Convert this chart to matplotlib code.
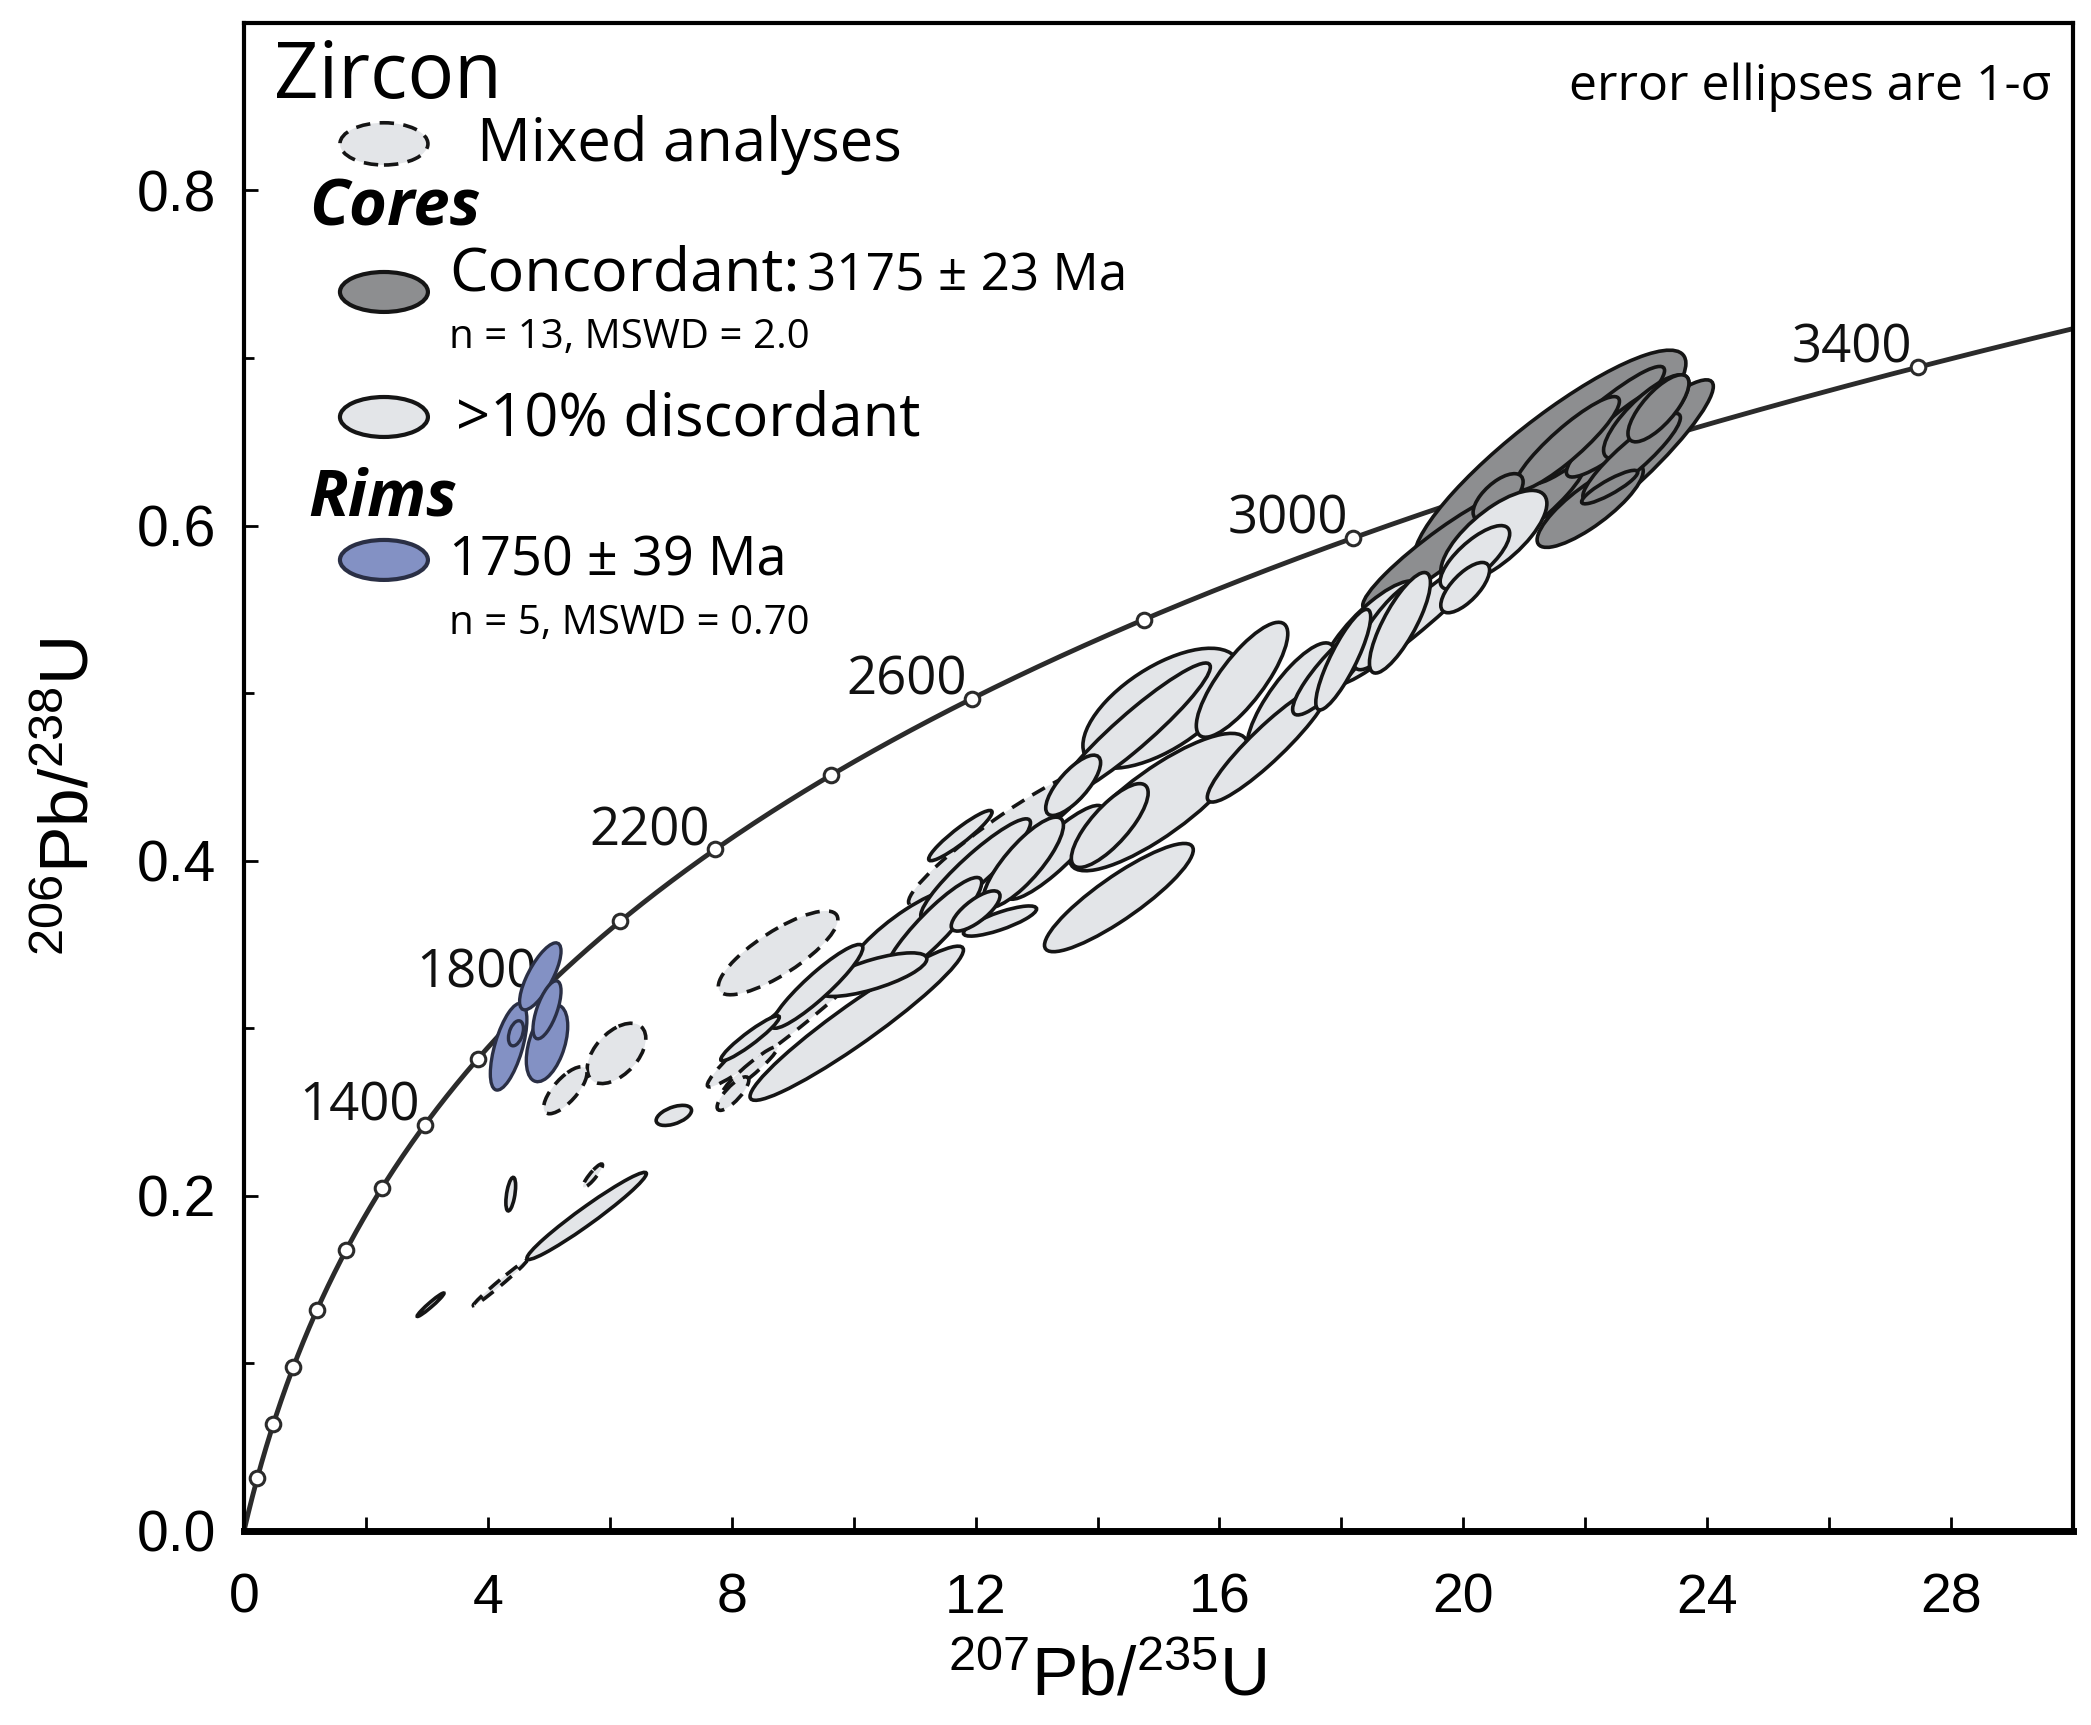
import numpy as np
import matplotlib
matplotlib.use("Agg")
import matplotlib.pyplot as plt
from matplotlib.patches import Ellipse
from matplotlib.ticker import MultipleLocator

plt.rcParams['font.family'] = ['Liberation Sans', 'DejaVu Sans']
plt.rcParams['mathtext.fontset'] = 'custom'
plt.rcParams['mathtext.rm'] = 'Liberation Sans'
plt.rcParams['mathtext.it'] = 'Liberation Sans'
plt.rcParams['mathtext.bf'] = 'Liberation Sans'

# decay constants (1/yr)
L235 = 9.8485e-10
L238 = 1.55125e-10

marker_ages = [200, 400, 600, 800, 1000, 1200, 1400, 1600, 1800, 2000,
               2200, 2400, 2600, 2800, 3000, 3200, 3400]
label_ages = [1400, 1800, 2200, 2600, 3000, 3400]

# analyses: 207Pb/235U, 1s, 206Pb/238U, 1s, rho
conc_x = [21.42, 19.6, 22.68, 22.2, 21.0, 22.65, 21.7, 22.76, 22.08, 23.2, 20.57, 22.4, 23.0]
conc_sx = [2.23, 1.25, 1.42, 1.1, 1.0, 0.96, 0.86, 0.80, 0.87, 0.50, 0.41, 0.46, 0.70]
conc_y = [0.639, 0.585, 0.638, 0.660, 0.610, 0.658, 0.649, 0.641, 0.612, 0.670, 0.617, 0.623, 0.665]
conc_sy = [0.0657, 0.035, 0.049, 0.035, 0.030, 0.029, 0.028, 0.026, 0.025, 0.020, 0.014, 0.010, 0.025]
conc_rho = [0.88, 0.93, 0.92, 0.93, 0.88, 0.90, 0.90, 0.90, 0.82, 0.75, 0.65, 0.88, 0.80]

disc_x = [3.06, 4.375, 5.62, 7.05, 8.30, 10.05, 10.30, 10.85, 11.75, 12.0, 12.4, 12.78, 13.6, 14.2,
          14.35, 14.6, 15.0, 15.05, 16.37, 17.17, 18.03, 18.48, 19.2, 18.8, 18.96, 20.5, 20.19, 20.03,
          9.4, 11.3, 12.0, 13.3, 16.8, 17.9]
disc_sx = [0.22, 0.08, 0.98, 0.29, 0.48, 1.75, 0.90, 0.97, 0.52, 0.40, 0.60, 0.66, 0.45, 0.63,
           1.22, 1.25, 1.46, 1.29, 0.75, 0.72, 0.45, 0.83, 1.3, 0.60, 0.50, 0.87, 0.57, 0.40,
           0.75, 0.80, 0.90, 0.80, 1.0, 0.7]
disc_y = [0.135, 0.201, 0.188, 0.248, 0.294, 0.303, 0.332, 0.356, 0.415, 0.370, 0.364, 0.399, 0.445, 0.421,
          0.378, 0.478, 0.435, 0.491, 0.508, 0.496, 0.520, 0.536, 0.545, 0.541, 0.542, 0.593, 0.581, 0.563,
          0.325, 0.360, 0.395, 0.405, 0.470, 0.515]
disc_sy = [0.007, 0.010, 0.026, 0.006, 0.0134, 0.046, 0.013, 0.0274, 0.015, 0.012, 0.009, 0.027, 0.018, 0.025,
           0.0323, 0.040, 0.041, 0.0358, 0.0343, 0.034, 0.030, 0.031, 0.040, 0.027, 0.030, 0.028, 0.019, 0.015,
           0.025, 0.030, 0.030, 0.028, 0.035, 0.028]
disc_rho = [0.97, 0.50, 0.97, 0.50, 0.94, 0.95, 0.72, 0.84, 0.93, 0.75, 0.80, 0.82, 0.75, 0.78,
            0.88, 0.94, 0.82, 0.62, 0.80, 0.80, 0.85, 0.80, 0.96, 0.82, 0.80, 0.72, 0.75, 0.70,
            0.92, 0.90, 0.92, 0.88, 0.92, 0.88]

mixed_x = [4.2, 5.27, 5.72, 6.11, 8.02, 8.3, 8.76, 9.1, 12.45]
mixed_sx = [0.44, 0.355, 0.16, 0.48, 0.26, 0.45, 0.98, 1.5, 1.55]
mixed_y = [0.148, 0.263, 0.212, 0.285, 0.261, 0.275, 0.345, 0.310, 0.414]
mixed_sy = [0.0135, 0.014, 0.007, 0.018, 0.010, 0.014, 0.025, 0.045, 0.041]
mixed_rho = [0.99, 0.73, 0.90, 0.50, 0.80, 0.95, 0.80, 0.975, 0.94]

rim_x = [4.34, 4.97, 4.86, 4.97, 4.46]
rim_sx = [0.30, 0.34, 0.34, 0.23, 0.123]
rim_y = [0.289, 0.291, 0.331, 0.311, 0.297]
rim_sy = [0.0259, 0.0229, 0.020, 0.0173, 0.0075]
rim_rho = [0.62, 0.45, 0.75, 0.65, 0.38]

LIGHT = "#e3e5e8"
DARK = "#8d8e90"
BLUE = "#8391c4"
EDGE = "#151515"
TXT = "Open Sans"
DASH = (0, (4, 2.6))


def draw_group(ax, xs, sxs, ys, sys_, rhos, z, **kw):
    # biggest ellipses go to the back
    order = sorted(range(len(xs)),
                   key=lambda i: -sxs[i] * sys_[i] * np.sqrt(1 - rhos[i] ** 2))
    for i in order:
        cov = np.array([[sxs[i] ** 2, rhos[i] * sxs[i] * sys_[i]],
                        [rhos[i] * sxs[i] * sys_[i], sys_[i] ** 2]])
        vals, vecs = np.linalg.eigh(cov)
        ang = np.degrees(np.arctan2(vecs[1, 1], vecs[0, 1]))
        ax.add_patch(Ellipse((xs[i], ys[i]), 2 * np.sqrt(vals[1]), 2 * np.sqrt(vals[0]),
                             angle=ang, zorder=z, **kw))


fig = plt.figure(figsize=(20.91, 17.25), dpi=100)
ax = fig.add_axes([0.1167, 0.1125, 0.8747, 0.8742])
ax.set_xlim(0, 30)
ax.set_ylim(0, 0.9)

# concordia
t = np.linspace(0, 3.6e9, 800)
ax.plot(np.exp(L235 * t) - 1, np.exp(L238 * t) - 1, color="#2b2b2b", lw=3.5, zorder=1)
ma = np.array(marker_ages) * 1e6
ax.plot(np.exp(L235 * ma) - 1, np.exp(L238 * ma) - 1, 'o', ms=10.5, mfc='white',
        mec="#2b2b2b", mew=2.2, zorder=1.5)
for a in label_ages:
    ax.annotate(str(a), (np.exp(L235 * a * 1e6) - 1, np.exp(L238 * a * 1e6) - 1),
                xytext=(-4, 3), textcoords='offset points', ha='right', va='baseline',
                fontsize=38, family=TXT, color='#111111', zorder=1.6)

draw_group(ax, mixed_x, mixed_sx, mixed_y, mixed_sy, mixed_rho, 2,
           facecolor=LIGHT, edgecolor=EDGE, lw=2.6, linestyle=DASH)
draw_group(ax, conc_x, conc_sx, conc_y, conc_sy, conc_rho, 3,
           facecolor=DARK, edgecolor=EDGE, lw=2.6)
draw_group(ax, disc_x, disc_sx, disc_y, disc_sy, disc_rho, 4,
           facecolor=LIGHT, edgecolor=EDGE, lw=2.6)
draw_group(ax, rim_x, rim_sx, rim_y, rim_sy, rim_rho, 5,
           facecolor=BLUE, edgecolor="#2a2f45", lw=2.4)

# axes styling
for s in ['top', 'left', 'right']:
    ax.spines[s].set_linewidth(3)
ax.spines['bottom'].set_linewidth(5)
ax.xaxis.set_major_locator(MultipleLocator(4))
ax.xaxis.set_minor_locator(MultipleLocator(2))
ax.yaxis.set_major_locator(MultipleLocator(0.2))
ax.yaxis.set_minor_locator(MultipleLocator(0.1))
ax.tick_params(axis='both', which='both', direction='in', top=False, right=False, width=2)
ax.tick_params(axis='x', which='both', length=10, pad=30, labelsize=40)
ax.tick_params(axis='y', which='major', length=10, pad=20, labelsize=41)
ax.tick_params(axis='y', which='minor', length=7)
ax.yaxis.set_major_formatter(plt.FuncFormatter(lambda v, p: f"{v:.1f}"))

ax.text(0.472, -0.109, r"$^{207}$Pb/$^{235}$U", transform=ax.transAxes, ha='center',
        va='baseline', fontsize=50)
ax.text(-0.085, 0.487, r"$^{206}$Pb/$^{238}$U", transform=ax.transAxes, ha='center',
        va='baseline', rotation=90, rotation_mode='anchor', fontsize=50)

# key
tr = ax.transAxes
ax.text(0.0162, 0.950, "Zircon", transform=tr, fontsize=56, family=TXT, va='baseline')
ax.text(0.988, 0.949, "error ellipses are 1-σ", transform=tr, fontsize=36, family=TXT,
        ha='right', va='baseline')
ax.add_patch(Ellipse((0.0765, 0.9198), 0.0481, 0.028, transform=tr, facecolor=LIGHT,
                     edgecolor=EDGE, lw=2.6, linestyle=DASH, zorder=6))
ax.text(0.1275, 0.9087, "Mixed analyses", transform=tr, fontsize=43, family=TXT, va='baseline')
ax.text(0.0354, 0.8658, "Cores", transform=tr, fontsize=47, family=TXT, va='baseline',
        weight='bold', style='italic')
ax.add_patch(Ellipse((0.0765, 0.8216), 0.0481, 0.0265, transform=tr, facecolor=DARK,
                     edgecolor=EDGE, lw=3, zorder=6))
ax.text(0.1122, 0.8228, "Concordant:", transform=tr, fontsize=44, family=TXT, va='baseline')
ax.text(0.3078, 0.8228, "3175 ± 23 Ma", transform=tr, fontsize=37, family=TXT, va='baseline')
ax.text(0.1122, 0.7844, "n = 13, MSWD = 2.0", transform=tr, fontsize=29, family=TXT, va='baseline')
ax.add_patch(Ellipse((0.0765, 0.7387), 0.0481, 0.0265, transform=tr, facecolor=LIGHT,
                     edgecolor=EDGE, lw=3, zorder=6))
ax.text(0.116, 0.7266, ">10% discordant", transform=tr, fontsize=43, family=TXT, va='baseline')
ax.text(0.0354, 0.6733, "Rims", transform=tr, fontsize=47, family=TXT, va='baseline',
        weight='bold', style='italic')
ax.add_patch(Ellipse((0.0765, 0.6439), 0.0481, 0.0265, transform=tr, facecolor=BLUE,
                     edgecolor="#2a2f45", lw=3, zorder=6))
ax.text(0.1122, 0.6334, "1750 ± 39 Ma", transform=tr, fontsize=39, family=TXT, va='baseline')
ax.text(0.1122, 0.5948, "n = 5, MSWD = 0.70", transform=tr, fontsize=29, family=TXT, va='baseline')

fig.savefig("out.png", dpi=100)
